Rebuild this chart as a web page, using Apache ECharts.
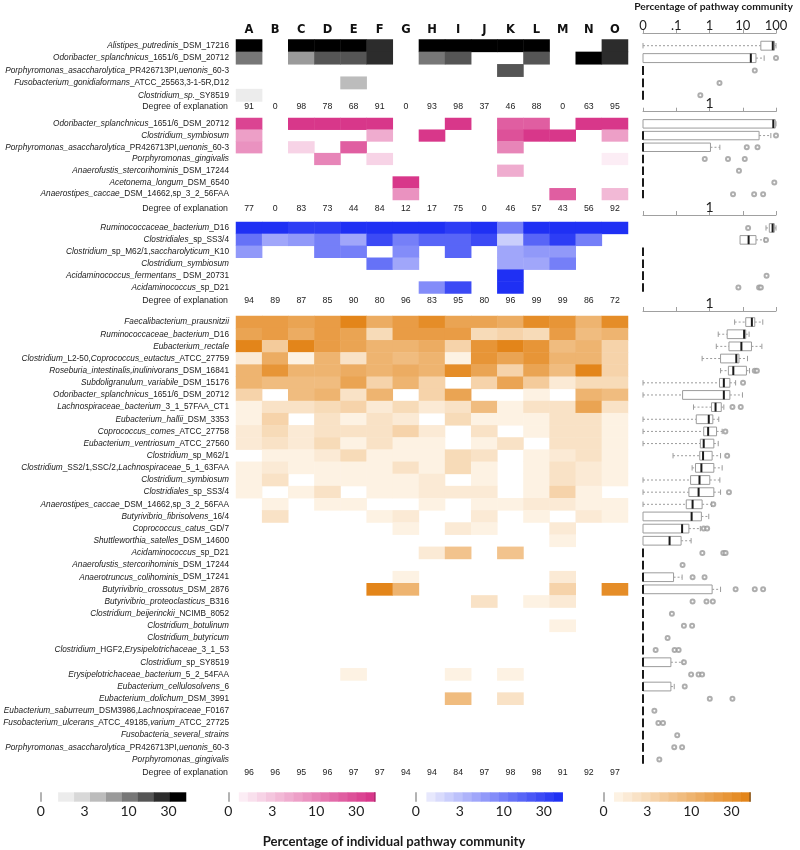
<!DOCTYPE html>
<html><head><meta charset="utf-8">
<script src="https://cdn.jsdelivr.net/npm/echarts@6/dist/echarts.min.js"></script>
<style>html,body{margin:0;padding:0;background:#fff}#c{width:800px;height:850px}</style>
</head><body><div id="c"></div><script>
// ---------------- DATA ----------------
const COLS = ['A','B','C','D','E','F','G','H','I','J','K','L','M','N','O'];

// Section 1 (grey)
const s1Rows = ['*Alistipes_putredinis*_DSM_17216','*Odoribacter_splanchnicus*_1651/6_DSM_20712','*Porphyromonas_asaccharolytica*_PR426713PI,*uenonis*_60-3','*Fusobacterium_gonidiaformans*_ATCC_25563,3-1-5R,D12','*Clostridium_sp.*_SY8519'];
const s1Values = [
  [40,0,40,40,40,25,0,40,40,40,40,40,0,0,25],
  [10.5,0,6.8,16,16,25,0,10.5,16,0,0,16,0,40,25],
  [0,0,0,0,0,0,0,0,0,0,16,0,0,0,0],
  [0,0,0,0,4.4,0,0,0,0,0,0,0,0,0,0],
  [1.8,0,0,0,0,0,0,0,0,0,0,0,0,0,0]
];
const s1Degree = [91,0,98,78,68,91,0,93,98,37,46,88,0,63,95];
const s1Box = [[0,35,80,90,100],[0,0,17.5,25,44],[0,0,0,0,0],[0,0,0,0,0],[0,0,0,0,0]];
const s1Outliers = [[],[100],[23],[2],[0.53]];

// Section 2 (pink)
const s2Rows = ['*Odoribacter_splanchnicus*_1651/6_DSM_20712','*Clostridium_symbiosum*','*Porphyromonas_asaccharolytica*_PR426713PI,*uenonis*_60-3','*Porphyromonas_gingivalis*','*Anaerofustis_stercorihominis*_DSM_17244','*Acetonema_longum*_DSM_6540','*Anaerostipes_caccae*_DSM_14662,sp_3_2_56FAA'];
const s2Values = [
  [34,0,44,44,44,44,0,0,44,0,21,21,0,44,44],
  [6,0,0,0,0,4.7,0,44,0,0,27,44,44,0,6],
  [7.7,0,2.2,0,21,0,0,0,0,0,10,0,0,0,0],
  [0,0,0,10,0,2.2,0,0,0,0,0,0,0,0,1.3],
  [0,0,0,0,0,0,0,0,0,0,4.7,0,0,0,0],
  [0,0,0,0,0,0,44,0,0,0,0,0,0,0,0],
  [0,0,0,0,0,0,7.7,0,0,0,0,0,21,0,3.7]
];
const s2Degree = [77,0,83,73,44,84,12,17,75,0,46,57,43,56,92];
const s2Box = [[0,0,83,95,100],[0,0,0,31,70],[0,0,0,1.07,2.05],[0,0,0,0,0],[0,0,0,0,0],[0,0,0,0,0],[0,0,0,0,0]];
const s2Outliers = [[],[100],[13.2,27.8],[0.72,3.6,11.5],[7.7],[89],[5.1,22,41]];

// Section 3 (blue)
const s3Rows = ['*Ruminococcaceae_bacterium*_D16','*Clostridiales*_sp_SS3/4','*Clostridium*_sp_M62/1,*saccharolyticum*_K10','*Clostridium_symbiosum*','*Acidaminococcus_fermentans*_ DSM_20731','*Acidaminococcus*_sp_D21'];
const s3Values = [
  [44,44,34,34,44,44,44,44,34,44,10,44,44,44,44],
  [12.5,4.7,6,10,4.7,27,10,16,16,27,2.2,16,34,10,0],
  [6,0,0,10,10,0,7.7,0,16,0,4.7,6,6,0,0],
  [0,0,0,0,0,12.5,4.7,0,0,0,4.7,4.7,10,0,0],
  [0,0,0,0,0,0,0,0,0,0,44,0,0,0,0],
  [0,0,0,0,0,0,0,7.7,27,0,44,0,0,0,0]
];
const s3Degree = [94,89,87,85,90,80,96,83,95,80,96,99,99,86,72];
const s3Box = [[50,63,79,89,100],[8.3,8.3,15,25,45],[0,0,0,0,0],[0,0,0,0,0],[0,0,0,0,0],[0,0,0,0,0]];
const s3Outliers = [[14.5],[50],[],[],[52],[7.4,31,35]];

// Section 4 (orange)
const s4Rows = ['*Faecalibacterium_prausnitzii*','*Ruminococcaceae_bacterium*_D16','*Eubacterium_rectale*','*Clostridium*_L2-50,*Coprococcus_eutactus*_ATCC_27759','*Roseburia_intestinalis,inulinivorans*_DSM_16841','*Subdoligranulum_variabile*_DSM_15176','*Odoribacter_splanchnicus*_1651/6_DSM_20712','*Lachnospiraceae_bacterium*_3_1_57FAA_CT1','*Eubacterium_hallii*_DSM_3353','*Coprococcus_comes*_ATCC_27758','*Eubacterium_ventriosum*_ATCC_27560','*Clostridium*_sp_M62/1','*Clostridium*_SS2/1,SSC/2,*Lachnospiraceae*_5_1_63FAA','*Clostridium_symbiosum*','*Clostridiales*_sp_SS3/4','*Anaerostipes_caccae*_DSM_14662,sp_3_2_56FAA','*Butyrivibrio_fibrisolvens*_16/4','*Coprococcus_catus*_GD/7','*Shuttleworthia_satelles*_DSM_14600','*Acidaminococcus*_sp_D21','*Anaerofustis_stercorihominis*_DSM_17244','*Anaerotruncus_colihominis*_DSM_17241','*Butyrivibrio_crossotus*_DSM_2876','*Butyrivibrio_proteoclasticus*_B316','*Clostridium_beijerinckii*_NCIMB_8052','*Clostridium_botulinum*','*Clostridium_butyricum*','*Clostridium*_HGF2,*Erysipelotrichaceae*_3_1_53','*Clostridium*_sp_SY8519','*Erysipelotrichaceae_bacterium*_5_2_54FAA','*Eubacterium_cellulosolvens*_6','*Eubacterium_dolichum*_DSM_3991','*Eubacterium_saburreum*_DSM3986,*Lachnospiraceae*_F0167','*Fusobacterium_ulcerans*_ATCC_49185,*varium*_ATCC_27725','*Fusobacteria_several_strains*','*Porphyromonas_asaccharolytica*_PR426713PI,*uenonis*_60-3','*Porphyromonas_gingivalis*'];
const s4Values = [
  [21,21,16,21,44,12.5,21,34,16,16,12.5,34,27,10,34],
  [16,21,12.5,21,16,2.9,21,21,21,2.9,3.7,2.9,21,7.7,10],
  [44,4.7,44,21,16,10,10,12.5,3.7,27,44,27,7.7,10,3.7],
  [1.7,12.5,1.3,10,2.2,10,7.7,10,1.3,27,16,27,10,10,3.7],
  [10,27,10,10,12.5,10,12.5,10,34,16,3.7,16,7.7,44,3.7],
  [10,7.7,7.7,7.7,16,3.7,10,3.7,0,3.7,16,4.7,1.7,2.9,2.9],
  [3.7,0,7.7,10,2.2,10,0,3.7,16,0,0,1.3,0,10,7.7],
  [1.3,2.2,2.2,2.9,3.7,1.7,2.9,1.7,2.2,7.7,1.3,2.2,2.2,16,2.2],
  [1.3,3.7,0,2.2,1.3,2.2,1.7,0,2.9,1.3,1.3,1.3,2.2,2.2,1.3],
  [1.7,2.9,1.7,2.2,2.2,2.2,3.7,1.7,0,2.2,0,1.3,2.2,2.2,1.3],
  [1.7,2.2,1.7,2.9,1.3,2.2,1.3,1.3,0,1.3,2.2,0,2.2,2.2,1.3],
  [0,1.3,1.3,1.7,2.9,1.3,1.3,1.3,2.9,2.2,0,1.3,1.7,2.2,1.3],
  [1.3,1.7,1.3,1.3,1.3,1.3,2.2,1.3,2.9,1.3,0,1.3,2.2,1.7,1.3],
  [1.3,2.2,0,1.3,1.3,1.3,1.3,1.7,0,1.3,0,1.3,2.2,1.7,1.3],
  [1.3,0,1.3,2.2,0,1.3,1.3,1.7,1.7,1.7,0,1.3,3.7,1.3,0],
  [0,1.3,0,1.3,1.3,0,0,1.3,0,1.3,1.3,1.7,1.7,1.3,1.3],
  [0,2.2,0,0,0,1.3,1.7,0,0,1.7,0,1.3,0,1.7,1.3],
  [0,0,0,0,0,0,1.3,0,1.7,1.3,0,0,1.7,0,0],
  [0,0,0,0,0,0,0,0,0,0,0,0,1.3,0,0],
  [0,0,0,0,0,0,0,1.7,6,0,6,0,0,0,0],
  [0,0,0,0,0,0,0,0,0,0,0,0,0,0,0],
  [0,0,0,0,0,0,1.3,0,0,0,0,0,1.7,0,0],
  [0,0,0,0,0,44,10,0,0,0,0,0,3.7,0,34],
  [0,0,0,0,0,0,0,0,0,2.2,0,1.3,1.7,0,0],
  [0,0,0,0,0,0,0,0,0,0,0,0,0,0,0],
  [0,0,0,0,0,0,0,0,0,0,0,0,1.3,0,0],
  [0,0,0,0,0,0,0,0,0,0,0,0,0,0,0],
  [0,0,0,0,0,0,0,0,0,0,0,0,0,0,0],
  [0,0,0,0,0,0,0,0,0,0,0,0,0,0,0],
  [0,0,0,0,1.3,0,0,0,1.3,0,1.3,0,0,0,0],
  [0,0,0,0,0,0,0,0,0,0,0,0,0,0,0],
  [0,0,0,0,0,0,0,0,7.7,0,2.2,0,0,0,0],
  [0,0,0,0,0,0,0,0,0,0,0,0,0,0,0],
  [0,0,0,0,0,0,0,0,0,0,0,0,0,0,0],
  [0,0,0,0,0,0,0,0,0,0,0,0,0,0,0],
  [0,0,0,0,0,0,0,0,0,0,0,0,0,0,0],
  [0,0,0,0,0,0,0,0,0,0,0,0,0,0,0]
];
const s4Degree = [96,96,95,96,97,97,94,94,84,97,98,98,91,92,97];
const s4Box = [
  [5.7,12.3,18.8,23,40],[1.83,3.4,11,12.3,15.5],[1.6,3.85,9.1,18.3,37.6],[0.6,2.15,6.4,7.7,13.9],
  [2.15,3.7,5.2,12.9,16],[0,2.0,2.7,4.1,6.1],[0,0.155,2.7,4.1,9.8],[0.33,1.15,1.52,2.26,2.7],
  [0,0.4,0.95,1.26,1.9],[0,0.67,0.91,1.63,2.4],[0,0.53,0.67,1.35,1.83],[0.08,0.51,0.64,1.2,2.15],
  [0.3,0.38,0.57,1.35,2.4],[0,0.27,0.5,1.02,2.05],[0,0.24,0.47,1.35,2.15],[0,0.2,0.31,0.6,1.15],
  [0,0,0.29,0.57,0.95],[0,0,0.15,0.24,0.53],[0,0,0.063,0.14,0.28],[0,0,0,0,0],
  [0,0,0,0,0],[0,0,0,0.083,0.15],[0,0,0,1.2,2.15],[0,0,0,0,0],
  [0,0,0,0,0],[0,0,0,0,0],[0,0,0,0,0],[0,0,0,0,0],
  [0,0,0,0.069,0.16],[0,0,0,0,0],[0,0,0,0.069,0.087],[0,0,0,0,0],
  [0,0,0,0,0],[0,0,0,0,0],[0,0,0,0,0],[0,0,0,0,0],[0,0,0,0,0]
];
const s4Outliers = [
  [],[],[],[],[23,26.6],[10.2],[],[4.9,8.7],[],[3.0],[],[3.4],[],[],[3.85],[1.3],
  [],[0.67,0.85],[],[0.61,2.6,3.05],[0.155],[0.31,0.71],[6.1,23,41],[0.31,0.81,1.26],
  [0.074],[0.17,0.3],[0.055],[0.024,0.089,0.118],[0.17],[0.28,0.47,0.6],[0.18],[1.02,4.9],
  [0.022],[0.029,0.04],[0.107],[0.087,0.15],[0.031]
];

const legendTicks = [0, 3, 10, 30];
const boxTickLabels = {'-2':'0','-1':'.1','0':'1','1':'10','2':'100'};

// ---------------- STYLE / SCALES ----------------
const SCALES = {
  gray:   {lo: 1.45, hi: 48, colors: ['#ececec','#d8d8d8','#bcbcbc','#9a9a9a','#777777','#555555','#2c2c2c','#000000']},
  pink:   {lo: 1.2, hi: 50, n: 15, light: '#fcedf5', dark: '#d8378a', edge: '#a82a6c'},
  blue:   {lo: 1.2, hi: 50, n: 15, light: '#e7e8fd', dark: '#1f30f4'},
  orange: {lo: 1.2, hi: 50, n: 15, light: '#fdf2e3', dark: '#e3851a', edge: '#7a4e1c'}
};
function hexRgb(h){ return [1,3,5].map(i => parseInt(h.substr(i,2),16)); }
function lerpColor(a,b,t){ const A=hexRgb(a),B=hexRgb(b); return 'rgb(' + A.map((v,i)=>Math.round(v+(B[i]-v)*t)).join(',') + ')'; }
function schemeColors(sc){ return sc.colors || Array.from({length: sc.n}, (_, k) => lerpColor(sc.light, sc.dark, k/(sc.n-1))); }
function schemeEdges(sc){ const n = schemeColors(sc).length; const st = Math.log10(sc.hi/sc.lo)/n; return Array.from({length:n+1}, (_,k) => sc.lo*Math.pow(10,k*st)); }
function makePieces(sc){
  const cols = schemeColors(sc), e = schemeEdges(sc), n = cols.length;
  return cols.map((c,k) => { const p = {color: c}; if (k===0) p.gt = 0; else p.gte = e[k]; if (k < n-1) p.lt = e[k+1]; return p; });
}

// fonts fitted by measurement
const mctx = document.createElement('canvas').getContext('2d');
function tw(font, t){ mctx.font = font; return mctx.measureText(t).width; }
const LONG = 'Porphyromonas_asaccharolytica_PR426713PI,uenonis_60-3';
const hasNarrow = tw('italic 20px "Liberation Sans Narrow", monospace', LONG) < 0.95*tw('italic 20px "Liberation Sans", monospace', LONG);
const LBL_FAM = hasNarrow ? '"Liberation Sans Narrow", "Liberation Sans", sans-serif' : '"Liberation Sans", sans-serif';
const LBL_SIZE = Math.min(10.5, 20*224/tw('italic 20px ' + LBL_FAM, LONG));
const DEG_SIZE = Math.min(10, 20*86/tw('20px ' + LBL_FAM, 'Degree of explanation'));
const TITLE_FAM = hasNarrow ? '"Liberation Sans Narrow", Lato, sans-serif' : 'Lato, sans-serif';
const T1 = 'Percentage of pathway community', T2 = 'Percentage of individual pathway community';
const T1_SIZE = Math.min(13, 20*159/tw('bold 20px ' + TITLE_FAM, T1));
const T2_SIZE = Math.min(16, 20*263/tw('bold 20px ' + TITLE_FAM, T2));

function richLabel(s){ return s.split('*').map((p,i) => p ? (i%2 ? '{i|'+p+'}' : '{n|'+p+'}') : '').join(''); }
const richStyles = {
  i: {fontStyle:'italic', fontFamily: LBL_FAM, fontSize: LBL_SIZE, color:'#1a1a1a'},
  n: {fontStyle:'normal', fontFamily: LBL_FAM, fontSize: LBL_SIZE, color:'#1a1a1a'}
};

const sections = [
  {rows:s1Rows, values:s1Values, degree:s1Degree, box:s1Box, out:s1Outliers, scale:'gray',   top:39.5, height:62,    degOffset:5.5, axisOffset:6.2, full:true},
  {rows:s2Rows, values:s2Values, degree:s2Degree, box:s2Box, out:s2Outliers, scale:'pink',   top:118,  height:82,    degOffset:8.3, axisOffset:6.3, full:false},
  {rows:s3Rows, values:s3Values, degree:s3Degree, box:s3Box, out:s3Outliers, scale:'blue',   top:222,  height:71.5,  degOffset:7.5, axisOffset:7,   full:false},
  {rows:s4Rows, values:s4Values, degree:s4Degree, box:s4Box, out:s4Outliers, scale:'orange', top:316,  height:449.5, degOffset:7,   axisOffset:5,   full:false}
];

const HEAT_LEFT = 236, HEAT_W = 392, BOX_LEFT = 643, BOX_W = 133;
const clampLog = v => Math.max(v, 0.01);

function makeBoxRenderer(bandH){
  return function(params, api){
    const y = api.value(0);
    const p = [1,2,3,4,5].map(d => api.coord([api.value(d), y])[0]);
    const cy = api.coord([1, y])[1];
    const bh = bandH*0.36, ch = bandH*0.22;
    const dash = {stroke:'#9c9c9c', lineWidth:1, lineDash:[2,2]};
    const solid = {stroke:'#9c9c9c', lineWidth:1};
    const ch_ = [];
    if (p[1]-p[0] > 0.5){
      ch_.push({type:'line', shape:{x1:p[0], y1:cy, x2:p[1], y2:cy}, style:dash});
      ch_.push({type:'line', shape:{x1:p[0], y1:cy-ch, x2:p[0], y2:cy+ch}, style:solid});
    }
    if (p[4]-p[3] > 0.5){
      ch_.push({type:'line', shape:{x1:p[3], y1:cy, x2:p[4], y2:cy}, style:dash});
      ch_.push({type:'line', shape:{x1:p[4], y1:cy-ch, x2:p[4], y2:cy+ch}, style:solid});
    }
    if (p[3]-p[1] > 0.5){
      ch_.push({type:'rect', shape:{x:p[1], y:cy-bh, width:p[3]-p[1], height:2*bh}, style:{fill:'#fff', stroke:'#9c9c9c', lineWidth:1}});
    }
    ch_.push({type:'line', shape:{x1:p[2], y1:cy-bh, x2:p[2], y2:cy+bh}, style:{stroke:'#1a1a1a', lineWidth:2}});
    return {type:'group', children: ch_};
  };
}

const option = {animation:false, backgroundColor:'#ffffff', grid:[], xAxis:[], yAxis:[], series:[], visualMap:[], graphic:[]};

sections.forEach((s, si) => {
  const hg = option.grid.length;
  option.grid.push({left:HEAT_LEFT, top:s.top, width:HEAT_W, height:s.height});
  const bg = option.grid.length;
  option.grid.push({left:BOX_LEFT, top:s.top, width:BOX_W, height:s.height});

  const hx = option.xAxis.length;
  option.xAxis.push({
    type:'category', gridIndex:hg, data:COLS, position:'bottom', offset:s.degOffset,
    axisLine:{show:false}, axisTick:{show:false}, splitLine:{show:false},
    axisLabel:{interval:0, margin:0, verticalAlign:'middle', fontSize:DEG_SIZE, fontFamily:LBL_FAM, color:'#222',
      formatter:(v,i) => String(s.degree[i])},
    name:'Degree of explanation', nameLocation:'start', nameGap:8,
    nameTextStyle:{fontSize:DEG_SIZE, fontFamily:LBL_FAM, color:'#222', align:'right', verticalAlign:'middle'}
  });
  if (s.full){
    option.xAxis.push({
      type:'category', gridIndex:hg, data:COLS, position:'top',
      axisLine:{show:false}, axisTick:{show:false}, splitLine:{show:false},
      axisLabel:{interval:0, margin:3, fontSize:11.5, fontWeight:'bold', fontFamily:'"DejaVu Sans", sans-serif', color:'#111'}
    });
  }
  const hy = option.yAxis.length;
  option.yAxis.push({
    type:'category', gridIndex:hg, data:s.rows, inverse:true,
    axisLine:{show:false}, axisTick:{show:false}, splitLine:{show:false},
    axisLabel:{interval:0, margin:7, formatter:richLabel, rich:richStyles}
  });

  const bx = option.xAxis.length;
  option.xAxis.push({
    type:'log', logBase:10, gridIndex:bg, min:0.01, max:100, position:'top', offset:s.axisOffset,
    axisLine:{show:true, lineStyle:{color:'#a0a0a0', width:1}},
    axisTick:{show:true, length:4, lineStyle:{color:'#a0a0a0'}},
    splitLine:{show:false},
    axisLabel:{margin:1, fontSize: s.full ? 13 : 14, fontFamily:'Lato, sans-serif', color:'#222',
      formatter: v => { const e = String(Math.round(Math.log10(v))); return s.full ? (boxTickLabels[e] || '') : (e === '0' ? '1' : ''); }}
  });
  const by = option.yAxis.length;
  option.yAxis.push({type:'category', gridIndex:bg, data:s.rows, inverse:true, show:false});

  const heatData = [];
  s.values.forEach((row, r) => row.forEach((v, c) => { if (v > 0) heatData.push([c, r, v]); }));
  const hs = option.series.length;
  option.series.push({type:'heatmap', xAxisIndex:hx, yAxisIndex:hy, data:heatData, itemStyle:{borderWidth:0}, emphasis:{disabled:true}, silent:true});
  option.visualMap.push({type:'piecewise', show:false, seriesIndex:hs, dimension:2, pieces:makePieces(SCALES[s.scale]), outOfRange:{color:'#ffffff'}});

  option.series.push({
    type:'custom', xAxisIndex:bx, yAxisIndex:by, silent:true,
    data: s.box.map((b, r) => [r].concat(b.map(clampLog))),
    encode:{x:[1,2,3,4,5], y:0},
    renderItem: makeBoxRenderer(s.height / s.rows.length)
  });
  const od = [];
  s.out.forEach((list, r) => list.forEach(v => od.push([clampLog(v), r])));
  option.series.push({type:'scatter', xAxisIndex:bx, yAxisIndex:by, data:od, symbol:'emptyCircle', symbolSize:4,
    itemStyle:{color:'#9a9a9a', borderWidth:1}, silent:true});
});

// colour legends
const LEG_ZERO = 0.9, LEG_MAX = 50, LEG_TOP = 792.3, LEG_H = 9.4;
const LEG_LEFT = [40.7, 228.3, 415.9, 603.5];
const LEG_W = Math.log10(LEG_MAX/LEG_ZERO) * 84;
['gray','pink','blue','orange'].forEach((key, li) => {
  const sc = SCALES[key], cols = schemeColors(sc), e = schemeEdges(sc), n = cols.length;
  const g = option.grid.length;
  option.grid.push({left:LEG_LEFT[li], top:LEG_TOP, width:LEG_W, height:LEG_H});
  const xi = option.xAxis.length;
  option.xAxis.push({
    type:'value', gridIndex:g, min:Math.log10(LEG_ZERO), max:Math.log10(LEG_MAX),
    axisLine:{show:false}, splitLine:{show:false},
    axisTick:{show:true, customValues:[Math.log10(LEG_ZERO)], inside:true, length:LEG_H, lineStyle:{color:'#9a9a9a', width:1.5}},
    axisLabel:{customValues: legendTicks.map(t => Math.log10(t === 0 ? LEG_ZERO : t)), margin:3, fontSize:14, fontFamily:'Lato, sans-serif', color:'#222',
      formatter: v => { const r = Math.pow(10, v); return r < 1 ? '0' : String(Math.round(r)); }}
  });
  const yi = option.yAxis.length;
  option.yAxis.push({type:'value', gridIndex:g, min:0, max:1, show:false});
  option.series.push({
    type:'custom', xAxisIndex:xi, yAxisIndex:yi, silent:true,
    data: cols.map((c, k) => [Math.log10(e[k]), Math.log10(e[k+1]), k]),
    encode:{x:[0,1], y:2},
    renderItem: (params, api) => {
      const a = api.coord([api.value(0), 0]), b = api.coord([api.value(1), 1]);
      const k = api.value(2);
      const els = [{type:'rect', shape:{x:a[0], y:b[1], width:b[0]-a[0]+0.5, height:a[1]-b[1]}, style:{fill:cols[k]}}];
      if (k === n-1 && sc.edge) els.push({type:'line', shape:{x1:b[0], y1:b[1], x2:b[0], y2:a[1]}, style:{stroke:sc.edge, lineWidth:1.3}});
      return {type:'group', children:els};
    }
  });
});

option.graphic = [
  {type:'text', x:713.5, y:7, style:{text:T1, font:'bold ' + T1_SIZE + 'px ' + TITLE_FAM, fill:'#1a1a1a', align:'center', verticalAlign:'middle', textAlign:'center', textVerticalAlign:'middle'}},
  {type:'text', x:394, y:841.5, style:{text:T2, font:'bold ' + T2_SIZE + 'px ' + TITLE_FAM, fill:'#1a1a1a', align:'center', verticalAlign:'middle', textAlign:'center', textVerticalAlign:'middle'}}
];

const chart = echarts.init(document.getElementById('c'), null, {renderer:'canvas'});
chart.setOption(option);
</script></body></html>
